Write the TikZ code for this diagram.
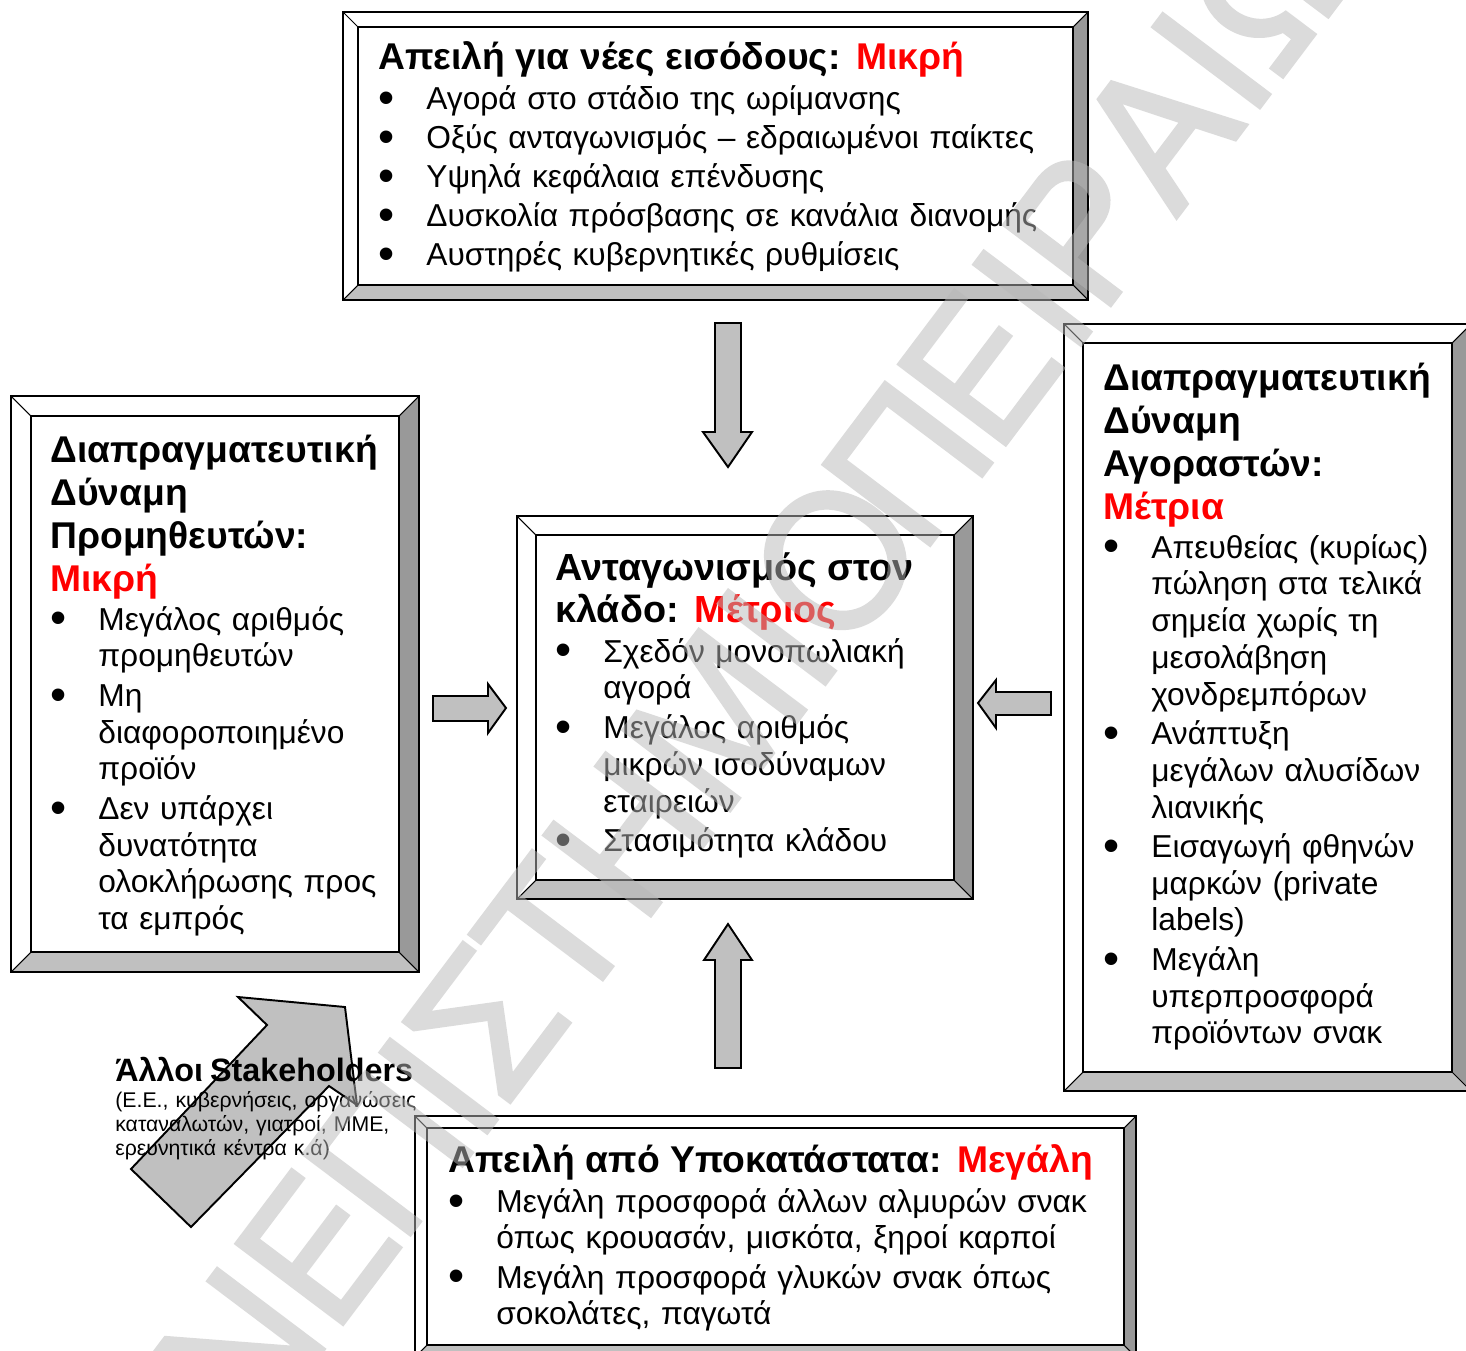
\documentclass[tikz,border=0pt]{standalone}
\usepackage{fontspec}
\setmainfont{Liberation Sans}
\newfontfamily\wmfont{TeX Gyre Heros}[FakeBold=1.5]
\usepackage{graphicx}

\definecolor{redtxt}{HTML}{FF0000}
\definecolor{arrowgray}{HTML}{C0C0C0}
\definecolor{sidegray}{HTML}{999999}
\definecolor{basegray}{HTML}{C0C0C0}
\definecolor{markgray}{HTML}{B8B8B8}

\newcommand{\bul}{\makebox[0.96cm][l]{\raisebox{-0.12em}{\scalebox{1.45}{\textbullet}}}}
\newcommand{\bind}{\hspace*{0.96cm}}
\newcommand{\hi}[1]{\textcolor{redtxt}{#1}}
\newcommand{\bodysize}{\fontsize{18.05pt}{20.9pt}\selectfont}
\newcommand{\headsize}{\fontsize{21.2pt}{20.9pt}\selectfont}
\newcommand{\wideheadsize}{\fontsize{21.5pt}{20.9pt}\selectfont}

% bevelled frame: x1 y1 x2 y2 inset (pixel units, y downwards)
\newcommand{\bevelbox}[5]{%
  \fill[sidegray] (#3,#2) -- (#3,#4) -- (#3-#5,#4-#5) -- (#3-#5,#2+#5) -- cycle;
  \fill[basegray] (#1,#4) -- (#3,#4) -- (#3-#5,#4-#5) -- (#1+#5,#4-#5) -- cycle;
  \draw[bevelline] (#1,#2) rectangle (#3,#4);
  \draw[bevelline] (#1+#5,#2+#5) rectangle (#3-#5,#4-#5);
  \draw[bevelcorner] (#1,#2) -- (#1+#5,#2+#5) (#3,#2) -- (#3-#5,#2+#5)
    (#1,#4) -- (#1+#5,#4-#5) (#3,#4) -- (#3-#5,#4-#5);
}

\tikzset{
  boxtext/.style={anchor=base west, align=left, inner sep=0pt, text width=16cm,
    font=\bodysize},
  blockarrow/.style={draw=black, fill=arrowgray, line width=1.1pt, line join=miter},
  bevelline/.style={draw=black, line width=1.1pt},
  bevelcorner/.style={draw=black, line width=0.6pt},
  wmark/.style={text=markgray, inner sep=0pt, rotate=53,
    font=\wmfont\fontsize{105pt}{105pt}\selectfont}
}

\lineskiplimit=-\maxdimen

\begin{document}
\begin{tikzpicture}[x=0.02cm,y=-0.02cm]
  \useasboundingbox (0,0) rectangle (1466,1350);
  \clip (0,0) rectangle (1466,1350);
  \fill[white] (0,0) rectangle (1466,1350);

  % frames
  \bevelbox{343}{12}{1088}{300}{15}
  \bevelbox{11}{396}{419}{972}{20}
  \bevelbox{517}{516}{973}{899}{19}
  \bevelbox{1064}{324}{1471}{1091}{19}
  \bevelbox{415}{1116}{1136}{1357}{12}

  % block arrows
  \draw[blockarrow] (715,323) -- (741,323) -- (741,432) -- (752,432) -- (728,467)
    -- (703,432) -- (715,432) -- cycle;
  \draw[blockarrow] (715,1068) -- (741,1068) -- (741,960) -- (752,960) -- (728,924)
    -- (704,960) -- (715,960) -- cycle;
  \draw[blockarrow] (433,696) -- (488,696) -- (488,684) -- (506,708) -- (488,733)
    -- (488,721) -- (433,721) -- cycle;
  \draw[blockarrow] (1051,692) -- (996,692) -- (996,680) -- (978,703) -- (996,728)
    -- (996,715) -- (1051,715) -- cycle;
  \draw[blockarrow] (131,1169) -- (267,1025) -- (238,997) -- (345,1007) -- (357,1105)
    -- (329,1086) -- (191,1227) -- cycle;

  % texts
  \node[boxtext, font=\fontsize{18.05pt}{22.2pt}\selectfont] (entrants) at (378,69) {%
    {\headsize\bfseries Απειλή για νέες εισόδους: \hi{Μικρή}}\\[1.1pt]
    \bul Αγορά στο στάδιο της ωρίμανσης\\
    \bul Οξύς ανταγωνισμός – εδραιωμένοι παίκτες\\
    \bul Υψηλά κεφάλαια επένδυσης\\
    \bul Δυσκολία πρόσβασης σε κανάλια διανομής\\
    \bul Αυστηρές κυβερνητικές ρυθμίσεις};

  \node[boxtext] (suppliers) at (50,462) {%
    {\headsize\bfseries Διαπραγματευτική}\\[3.6pt]
    {\headsize\bfseries Δύναμη}\\[3.6pt]
    {\headsize\bfseries Προμηθευτών:}\\[3.6pt]
    {\headsize\bfseries\hi{Μικρή}}\\[1.3pt]
    \bul Μεγάλος αριθμός\\
    \bind προμηθευτών\\[1.6pt]
    \bul Μη\\
    \bind διαφοροποιημένο\\
    \bind προϊόν\\[1.6pt]
    \bul Δεν υπάρχει\\
    \bind δυνατότητα\\
    \bind ολοκλήρωσης προς\\
    \bind τα εμπρός};

  \node[boxtext] (rivalry) at (555,580) {%
    {\wideheadsize\bfseries Ανταγωνισμός στον}\\[3pt]
    {\wideheadsize\bfseries κλάδο: \hi{Μέτριος}}\\[1.9pt]
    \bul Σχεδόν μονοπωλιακή\\
    \bind αγορά\\[1.9pt]
    \bul Μεγάλος αριθμός\\
    \bind μικρών ισοδύναμων\\
    \bind εταιρειών\\[1.6pt]
    \bul Στασιμότητα κλάδου};

  \node[boxtext] (buyers) at (1103,390) {%
    {\headsize\bfseries Διαπραγματευτική}\\[3.6pt]
    {\headsize\bfseries Δύναμη}\\[3.6pt]
    {\headsize\bfseries Αγοραστών:}\\[3.6pt]
    {\headsize\bfseries\hi{Μέτρια}}\\[1.3pt]
    \bul Απευθείας (κυρίως)\\
    \bind πώληση στα τελικά\\
    \bind σημεία χωρίς τη\\
    \bind μεσολάβηση\\
    \bind χονδρεμπόρων\\[1.6pt]
    \bul Ανάπτυξη\\
    \bind μεγάλων αλυσίδων\\
    \bind λιανικής\\[1.6pt]
    \bul Εισαγωγή φθηνών\\
    \bind μαρκών (private\\
    \bind labels)\\[1.6pt]
    \bul Μεγάλη\\
    \bind υπερπροσφορά\\
    \bind προϊόντων σνακ};

  \node[boxtext] (substitutes) at (448,1172) {%
    {\headsize\bfseries Απειλή από Υποκατάστατα: \hi{Μεγάλη}}\\[2pt]
    \bul Μεγάλη προσφορά άλλων αλμυρών σνακ\\
    \bind όπως κρουασάν, μισκότα, ξηροί καρποί\\[1.4pt]
    \bul Μεγάλη προσφορά γλυκών σνακ όπως\\
    \bind σοκολάτες, παγωτά};

  \node[boxtext, font=\fontsize{12.1pt}{13.9pt}\selectfont] (others) at (115,1081) {%
    {\fontsize{18.4pt}{13.9pt}\selectfont\bfseries Άλλοι Stakeholders}\\[0.9pt]
    (Ε.Ε., κυβερνήσεις, οργανώσεις\\
    καταναλωτών, γιατροί, ΜΜΕ,\\
    ερευνητικά κέντρα κ.ά)};

  % watermark
  \begin{scope}[transparency group, opacity=0.5]
    \node[wmark] (wmo) at (835,560) {Ο};
    \node[wmark, anchor=base east] (wml) at (wmo.base west) {ΠΑΝΕΠΙΣΤΗΜΙ};
    \node[wmark, anchor=base west] (wmr) at (wmo.base east) {\hspace{-0.05em}ΠΕΙΡΑΙΩΣ};
  \end{scope}
\end{tikzpicture}
\end{document}
